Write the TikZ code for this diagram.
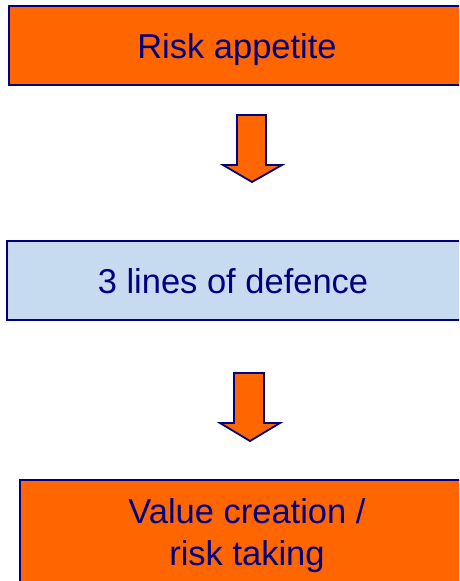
\documentclass[tikz,border=0pt]{standalone}
\usepackage{fontspec}
\setmainfont{Liberation Sans}
\definecolor{navy}{HTML}{000080}
\definecolor{orng}{HTML}{FF6600}
\definecolor{ltblue}{HTML}{C6DBEF}
\begin{document}
\begin{tikzpicture}[x=1pt,y=-1pt,
  box/.style={draw=navy,line width=2pt,rectangle,inner sep=0pt},
  label/.style={font=\fontsize{34.5}{42}\selectfont,text=navy,align=center,anchor=base,inner sep=0pt},
  blockarrow/.style={draw=navy,fill=orng,line width=1.8pt,line join=miter}]
\useasboundingbox (0,0) rectangle (459,581);
\clip (0,0) rectangle (459,581);
\node[box,fill=orng,minimum width=456pt,minimum height=79pt] (appetite) at (237,45.5) {};
\node[label] (appetitetext) at (237,58) {Risk appetite};
\node[box,fill=ltblue,minimum width=455pt,minimum height=79pt] (defence) at (234.5,280.5) {};
\node[label] (defencetext) at (233,293) {3 lines of defence};
\node[box,fill=orng,minimum width=454pt,minimum height=140pt] (value) at (247,550) {};
\node[label] (valuetext) at (247,565) {Value creation /\\risk taking};
\draw[blockarrow] (237,115) -- (266,115) -- (266,165) -- (282,165) -- (252,182) -- (223,165) -- (237,165) -- cycle;
\draw[blockarrow] (234,373) -- (264,373) -- (264,423) -- (280,423) -- (250,441) -- (220,423) -- (234,423) -- cycle;
\end{tikzpicture}
\end{document}
